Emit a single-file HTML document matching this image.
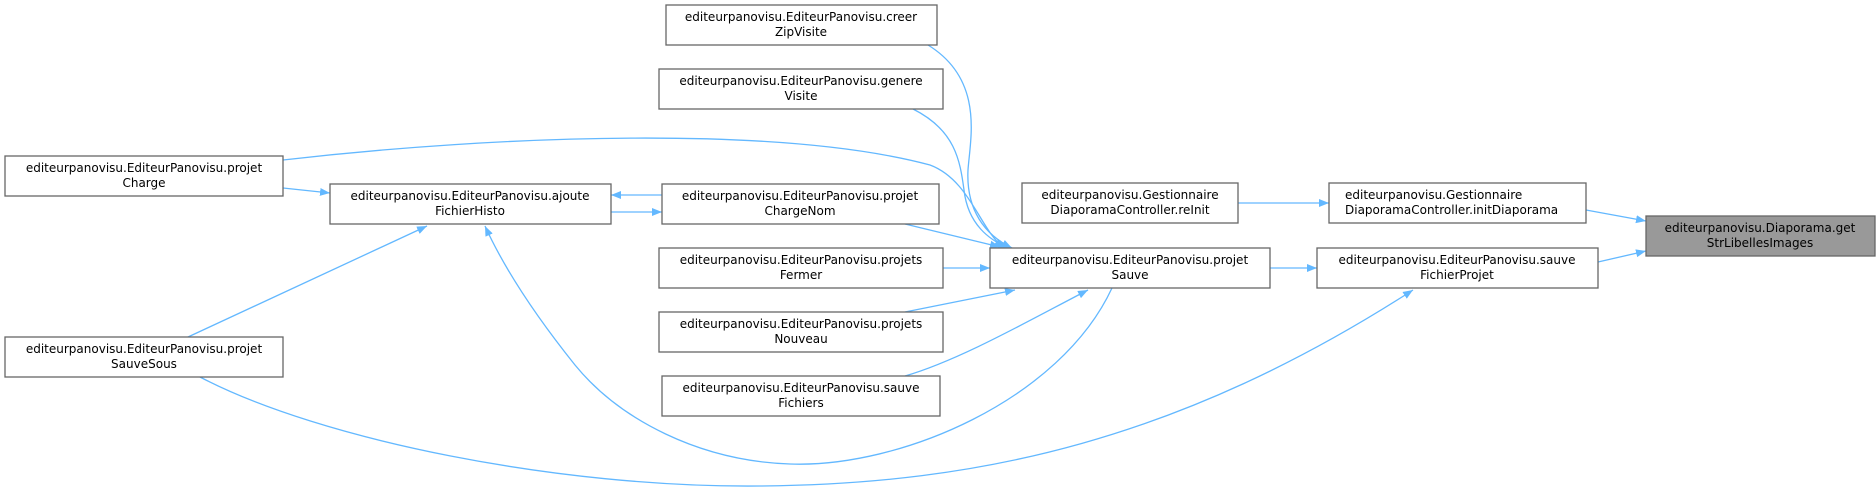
<!DOCTYPE html>
<html><head><meta charset="utf-8"><style>
html,body{margin:0;padding:0;background:#fff;width:1876px;height:491px;overflow:hidden}
text{font-family:"DejaVu Sans","Liberation Sans",sans-serif;font-size:12px;fill:#000;text-anchor:middle}
.n{fill:#fff;stroke:#666;stroke-width:1.3}
.e{fill:none;stroke:#63b8ff;stroke-width:1.3}
</style></head><body>
<svg width="1876" height="491" viewBox="0 0 1876 491" xmlns="http://www.w3.org/2000/svg">
<defs><marker id="m" viewBox="0 0 10 10" refX="10" refY="5" markerWidth="10" markerHeight="10" markerUnits="userSpaceOnUse" orient="auto"><path d="M0,1 L10,5 L0,9 z" fill="#63b8ff"/></marker></defs>
<g class="e" marker-end="url(#m)">
<path d="M1586,210 L1646,221"/>
<path d="M1598,262 L1646,251"/>
<path d="M1238,203 L1329,203"/>
<path d="M1270,268 L1317,268"/>
<path d="M928,45 C985,80 970,140 968,170 C966,210 985,235 1012,248"/>
<path d="M913,109 C955,130 960,160 964,190 C968,225 990,240 1008,248"/>
<path d="M283,160 C500,135 780,125 930,165 C970,180 980,230 1004,248"/>
<path d="M905,224 L1000,247"/>
<path d="M943,268 L990,268"/>
<path d="M905,312 L1015,290"/>
<path d="M905,376 C960,360 1030,320 1088,290"/>
<path d="M283,188 L330,193"/>
<path d="M662,195 L611,195"/>
<path d="M611,212 L662,212"/>
<path d="M188,337 L427,226"/>
<path d="M1112,288 C1060,400 900,468 790,464 C700,461 620,420 575,365 C535,315 505,270 485,226"/>
<path d="M200,377 C320,440 560,488 760,486 C980,484 1180,440 1413,290"/>
</g>
<rect class="n" x="666" y="5" width="271" height="40"/><text x="801" y="21">editeurpanovisu.EditeurPanovisu.creer</text><text x="801" y="36">ZipVisite</text>
<rect class="n" x="659" y="69" width="284" height="40"/><text x="801" y="85">editeurpanovisu.EditeurPanovisu.genere</text><text x="801" y="100">Visite</text>
<rect class="n" x="5" y="156" width="278" height="40"/><text x="144" y="172">editeurpanovisu.EditeurPanovisu.projet</text><text x="144" y="187">Charge</text>
<rect class="n" x="330" y="184" width="281" height="40"/><text x="470" y="200">editeurpanovisu.EditeurPanovisu.ajoute</text><text x="470" y="215">FichierHisto</text>
<rect class="n" x="662" y="184" width="277" height="40"/><text x="800" y="200">editeurpanovisu.EditeurPanovisu.projet</text><text x="800" y="215">ChargeNom</text>
<rect class="n" x="659" y="248" width="284" height="40"/><text x="801" y="264">editeurpanovisu.EditeurPanovisu.projets</text><text x="801" y="279">Fermer</text>
<rect class="n" x="659" y="312" width="284" height="40"/><text x="801" y="328">editeurpanovisu.EditeurPanovisu.projets</text><text x="801" y="343">Nouveau</text>
<rect class="n" x="662" y="376" width="278" height="40"/><text x="801" y="392">editeurpanovisu.EditeurPanovisu.sauve</text><text x="801" y="407">Fichiers</text>
<rect class="n" x="5" y="337" width="278" height="40"/><text x="144" y="353">editeurpanovisu.EditeurPanovisu.projet</text><text x="144" y="368">SauveSous</text>
<rect class="n" x="990" y="248" width="280" height="40"/><text x="1130" y="264">editeurpanovisu.EditeurPanovisu.projet</text><text x="1130" y="279">Sauve</text>
<rect class="n" x="1022" y="183" width="216" height="40"/><text x="1130" y="199">editeurpanovisu.Gestionnaire</text><text x="1130" y="214">DiaporamaController.reInit</text>
<rect class="n" x="1329" y="183" width="257" height="40"/><text x="1345" y="199" style="text-anchor:start">editeurpanovisu.Gestionnaire</text><text x="1345" y="214" style="text-anchor:start">DiaporamaController.initDiaporama</text>
<rect class="n" x="1317" y="248" width="281" height="40"/><text x="1457" y="264">editeurpanovisu.EditeurPanovisu.sauve</text><text x="1457" y="279">FichierProjet</text>
<rect class="n" x="1646" y="216" width="229" height="40" style="fill:#999"/><text x="1760" y="232">editeurpanovisu.Diaporama.get</text><text x="1760" y="247">StrLibellesImages</text>
</svg>
</body></html>
